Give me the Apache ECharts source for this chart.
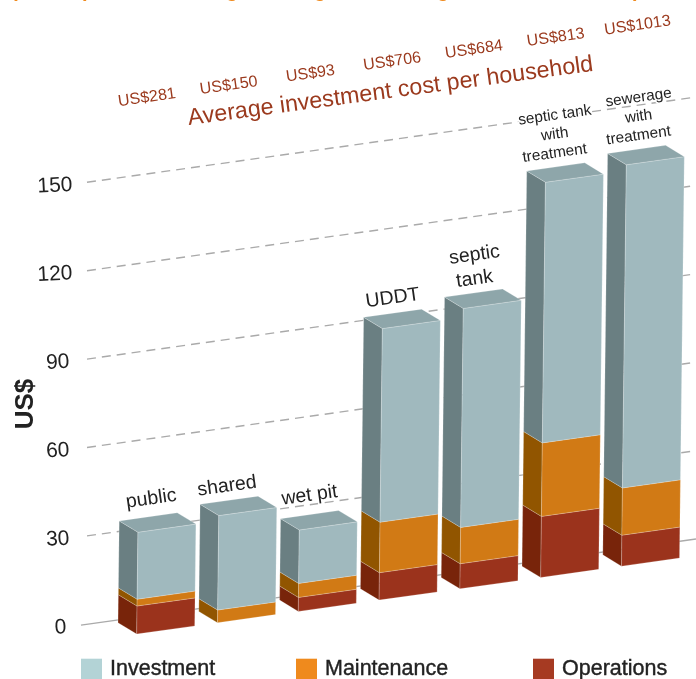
<!DOCTYPE html>
<html><head><meta charset="utf-8">
<style>html,body{margin:0;padding:0;background:#fff}#c{width:696px;height:679px}</style>
<script src="https://cdn.jsdelivr.net/npm/echarts@6/dist/echarts.min.js"></script>
</head><body><div id="c"></div>
<script>
const categories = ['public','shared','wet pit','UDDT','septic\ntank','septic tank\nwith\ntreatment','sewerage\nwith\ntreatment'];
const operations  = [9.5, 0, 4.75, 9.3, 8.5, 20.7, 10.5];
const maintenance = [2.3, 4.3, 4.75, 17.1, 12.3, 24.9, 16];
const investment  = [22.7, 32, 18.1, 65.6, 74.2, 88.3, 109.5];
const householdCost = ['US$281','US$150','US$93','US$706','US$684','US$813','US$1013'];
const yTicks = [0,30,60,90,120,150];
const costLevel = 175.7;

const FONT = '"Liberation Sans", Arial, sans-serif';
const SLOPE = 0.14, ANGLE = Math.atan(SLOPE), X0 = 82;
const FRONT = 16.7, DX = -18.7, DY = -11.3, BAR = 58, LEAN = 0.012;
const ink = '#222', brick = '#9b3a1e';
const nudgeX = [3,-2,0,0,1,-1,2], liftY = [18,14,19,15,14,13.5,13.7];

const chart = echarts.init(document.getElementById('c'));

function tilt(api, i, v, fx, forward) {
  const p = api.coord([i, v]), z = api.coord([i, 0]);
  const x = p[0] - BAR / 2 + fx * BAR + LEAN * (z[1] - p[1]);
  return [x, p[1] - SLOPE * (x - X0) + forward];
}
function backTop(api, i, v) {
  const a = tilt(api, i, v, 0.5, FRONT);
  return [a[0] + DX, a[1] + DY];
}
function boxSeries(name, legendColor, front, side, top, hasTop) {
  return {
    type: 'custom', name, coordinateSystem: 'cartesian2d', silent: true, z: 3,
    itemStyle: { color: legendColor },
    data: [],
    renderItem(params, api) {
      const i = api.value(0), lo = api.value(1), hi = api.value(2);
      if (hi <= lo) return null;
      const fl0 = tilt(api, i, lo, 0, FRONT), fr0 = tilt(api, i, lo, 1, FRONT);
      const fl1 = tilt(api, i, hi, 0, FRONT), fr1 = tilt(api, i, hi, 1, FRONT);
      const b = q => [q[0] + DX, q[1] + DY];
      const edge = { stroke: 'rgba(255,255,255,0.3)', lineWidth: 0.7 };
      const children = [
        { type: 'polygon', shape: { points: [b(fl0), fl0, fl1, b(fl1)] }, style: { fill: side, ...edge } },
        { type: 'polygon', shape: { points: [fl0, fr0, fr1, fl1] }, style: { fill: front, ...edge } }
      ];
      if (hasTop) children.push({ type: 'polygon', shape: { points: [b(fl1), fl1, fr1, b(fr1)] }, style: { fill: top, ...edge } });
      return { type: 'group', children };
    }
  };
}
let base = operations.map(() => 0);
function stack(values) {
  const d = values.map((v, i) => [i, base[i], base[i] + v]);
  base = base.map((b, i) => b + values[i]);
  return d;
}
const opsS = boxSeries('Operations', '#a63a22', '#9b331c', '#78240a');
const mntS = boxSeries('Maintenance', '#ef8a1d', '#d17a15', '#915500');
const invS = boxSeries('Investment', '#b3d3d6', '#a0b9be', '#6a7f82', '#8ea6aa', true);
opsS.data = stack(operations);
mntS.data = stack(maintenance);
invS.data = stack(investment);
const totals = base.slice();

const wallSeries = {
  type: 'custom', coordinateSystem: 'cartesian2d', silent: true, z: 1,
  data: yTicks.map(v => [0, v]),
  renderItem(params, api) {
    const v = api.value(1), y = api.coord([0, v])[1];
    const xa = v === 0 ? 81 : 87, xb = 696;
    return {
      type: 'line',
      shape: { x1: xa, y1: y - SLOPE * (xa - X0), x2: xb, y2: y - SLOPE * (xb - X0) },
      style: { stroke: '#aaa', lineWidth: 1.4, lineDash: v === 0 ? null : [9, 6] }
    };
  }
};
const nameSeries = {
  type: 'custom', coordinateSystem: 'cartesian2d', silent: true, z: 5,
  data: categories.map((c, i) => [i, totals[i]]),
  renderItem(params, api) {
    const i = api.value(0), b = backTop(api, i, api.value(1));
    const lines = categories[i].split('\n'), three = lines.length === 3;
    const lh = three ? 19 : 24;
    return {
      type: 'group',
      children: lines.map((t, k) => ({
        type: 'text', x: b[0] + nudgeX[i], y: b[1] - liftY[i] - lh * (lines.length - 1 - k), rotation: ANGLE,
        style: { text: t, align: 'center', verticalAlign: 'middle', fill: ink,
          fontFamily: FONT, fontSize: three ? 15.4 : 19.5, stroke: '#fff', lineWidth: 3 }
      }))
    };
  }
};
const costSeries = {
  type: 'custom', coordinateSystem: 'cartesian2d', silent: true, z: 5,
  data: householdCost.map((c, i) => [i, costLevel]),
  renderItem(params, api) {
    const i = api.value(0), b = backTop(api, i, 0);
    const p = api.coord([i, api.value(1)]);
    const x = b[0] + i * 0.95;
    return {
      type: 'text', x, y: p[1] - 0.147 * (x - X0), rotation: ANGLE,
      style: { text: householdCost[i], align: 'center', verticalAlign: 'middle', fill: brick, fontFamily: FONT, fontSize: 16.1 }
    };
  }
};
const legend = (name, left) => ({
  data: [name], left, top: 658, padding: 0, icon: 'rect', itemWidth: 21, itemHeight: 21, selectedMode: false,
  textStyle: { fontFamily: FONT, fontSize: 21.5, color: ink, padding: [0, 0, 0, 3], textBorderColor: ink, textBorderWidth: 0.4 }
});
const titleBits = [['(',11],['p',82],[',',160],['g',226],['g',314],['g',437],[')',633]];
const tickPad = { 0: 6, 30: 3, 60: 3, 90: 3, 120: 0, 150: 0 };

chart.setOption({
  animation: false,
  backgroundColor: '#fff',
  grid: { left: 125.3, width: 565.6, top: 183, bottom: 54, outerBoundsMode: 'none' },
  xAxis: { type: 'category', data: categories, axisLine: { show: false }, axisTick: { show: false }, axisLabel: { show: false }, splitLine: { show: false } },
  yAxis: {
    type: 'value', min: 0, max: 150, interval: 30,
    name: 'US$', nameLocation: 'middle', nameRotate: 90, nameGap: 99, nameMoveOverlap: false,
    nameTextStyle: { fontFamily: FONT, fontSize: 26, fontWeight: 'bold', color: ink, verticalAlign: 'middle' },
    axisLine: { show: false }, axisTick: { show: false }, splitLine: { show: false },
    axisLabel: {
      margin: 53, rotate: 3, fontFamily: FONT, fontSize: 21, color: ink,
      formatter: v => tickPad[v] === 0 ? '{a|' + v + '}' : tickPad[v] === 3 ? '{b|' + v + '}' : '{c|' + v + '}',
      rich: {
        a: { fontFamily: FONT, fontSize: 21, color: ink, padding: [4, 0, 0, 0] },
        b: { fontFamily: FONT, fontSize: 21, color: ink, padding: [4, 3, 0, 0] },
        c: { fontFamily: FONT, fontSize: 21, color: ink, padding: [4, 6, 0, 0] }
      }
    }
  },
  legend: [legend('Investment', 81), legend('Maintenance', 296), legend('Operations', 533)],
  graphic: [
    { type: 'text', x: 390.5, y: 91.5, rotation: Math.atan(0.134), z: 6,
      style: { text: 'Average investment cost per household', align: 'center', verticalAlign: 'middle', fill: brick, fontFamily: FONT, fontSize: 23.3 } }
  ].concat(titleBits.map(t => ({ type: 'text', x: t[1], y: -18.5, silent: true,
      style: { text: t[0], fill: '#ef8a1d', fontFamily: FONT, fontWeight: 'bold', fontSize: 20 } }))),
  series: [wallSeries, opsS, mntS, invS, nameSeries, costSeries]
});
</script></body></html>
